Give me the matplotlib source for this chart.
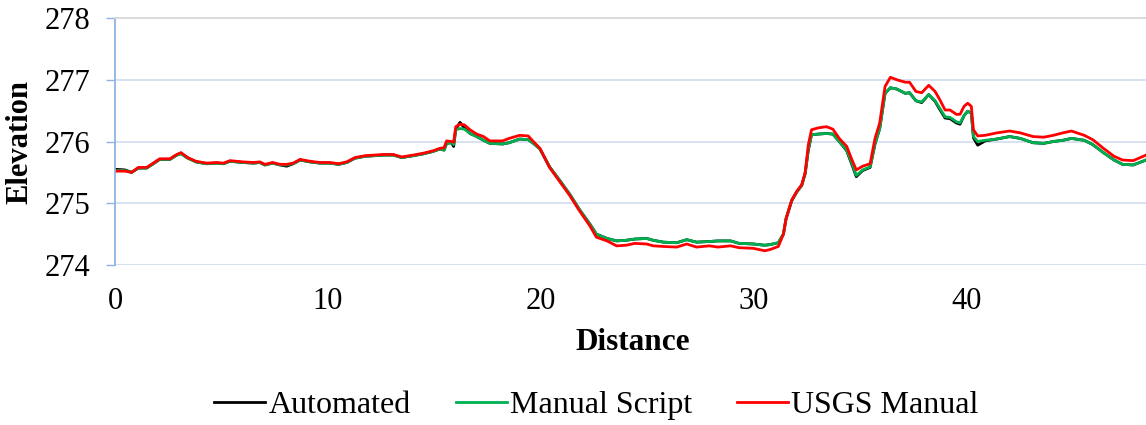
import matplotlib
matplotlib.use("Agg")
import matplotlib.pyplot as plt

plt.rcParams['font.family'] = ['Liberation Serif', 'DejaVu Serif']

distance = [0, 0.47, 0.78, 1.1, 1.49, 1.8, 2.1, 2.58, 2.9, 3.1, 3.4, 3.8, 4.3, 4.77, 5.1, 5.4, 6.0,
            6.5, 6.8, 7.04, 7.4, 7.75, 8.06, 8.37, 8.69, 9.15, 9.62, 10.09, 10.5, 10.88, 11.27, 11.74,
            12.2, 12.6, 13.07, 13.46, 14.0, 14.47, 14.94, 15.26, 15.45, 15.57, 15.8, 15.9, 16.0, 16.2,
            16.4, 16.67, 16.98, 17.3, 17.6, 18.2, 18.5, 19.0, 19.4, 19.64, 19.95, 20.4, 20.9, 21.36,
            21.8, 22.3, 22.6, 23.1, 23.55, 24.0, 24.4, 24.96, 25.27, 25.74, 26.37, 26.84, 27.3, 27.9,
            28.3, 28.9, 29.3, 29.97, 30.5, 30.75, 31.14, 31.38, 31.5, 31.77, 32.0, 32.24, 32.4, 32.55,
            32.7, 33.0, 33.4, 33.7, 34.0, 34.35, 34.6, 34.8, 35.1, 35.45, 35.68, 35.9, 36.15, 36.4,
            36.7, 37.1, 37.3, 37.6, 37.87, 38.2, 38.5, 38.7, 38.97, 39.2, 39.5, 39.67, 39.86, 40.03,
            40.2, 40.3, 40.5, 40.85, 41.4, 42.0, 42.5, 43.1, 43.6, 44.05, 44.5, 44.9, 45.5, 45.9,
            46.4, 46.9, 47.3, 47.8, 48.4]

manual_script = [275.53, 275.53, 275.50, 275.57, 275.57, 275.64, 275.71, 275.71, 275.78, 275.80,
                 275.73, 275.67, 275.64, 275.65, 275.64, 275.68, 275.66, 275.65, 275.66, 275.62,
                 275.65, 275.62, 275.62, 275.64, 275.70, 275.67, 275.65, 275.65, 275.63, 275.66,
                 275.73, 275.76, 275.77, 275.78, 275.78, 275.74, 275.77, 275.80, 275.84, 275.88,
                 275.86, 275.97, 275.98, 275.95, 276.19, 276.21, 276.20, 276.13, 276.08, 276.02,
                 275.97, 275.96, 275.98, 276.04, 276.03, 275.97, 275.88, 275.59, 275.36, 275.14,
                 274.90, 274.66, 274.50, 274.43, 274.39, 274.40, 274.42, 274.43, 274.40, 274.37,
                 274.36, 274.41, 274.37, 274.38, 274.39, 274.39, 274.35, 274.34, 274.32, 274.33,
                 274.36, 274.50, 274.75, 275.05, 275.18, 275.29, 275.48, 275.88, 276.11, 276.12,
                 276.13, 276.12, 276.00, 275.86, 275.64, 275.45, 275.54, 275.59, 275.97, 276.21,
                 276.78, 276.87, 276.85, 276.78, 276.79, 276.66, 276.64, 276.76, 276.66, 276.55,
                 276.40, 276.39, 276.32, 276.30, 276.42, 276.49, 276.46, 276.08, 276.00, 276.02,
                 276.04, 276.08, 276.05, 275.98, 275.97, 276.00, 276.02, 276.05, 276.02, 275.95,
                 275.82, 275.70, 275.63, 275.62, 275.70]

automated = [275.55, 275.54, 275.50, 275.57, 275.57, 275.64, 275.71, 275.71, 275.78, 275.81,
             275.74, 275.67, 275.64, 275.65, 275.64, 275.68, 275.66, 275.65, 275.66, 275.62,
             275.65, 275.62, 275.60, 275.64, 275.70, 275.67, 275.65, 275.65, 275.63, 275.66,
             275.73, 275.76, 275.77, 275.78, 275.78, 275.74, 275.77, 275.80, 275.84, 275.88,
             275.86, 275.97, 275.98, 275.92, 276.20, 276.31, 276.22, 276.13, 276.08, 276.02,
             275.97, 275.96, 275.98, 276.04, 276.03, 275.97, 275.88, 275.59, 275.36, 275.14,
             274.90, 274.66, 274.50, 274.43, 274.39, 274.40, 274.42, 274.43, 274.40, 274.37,
             274.36, 274.41, 274.37, 274.38, 274.39, 274.39, 274.35, 274.34, 274.32, 274.33,
             274.36, 274.50, 274.74, 275.04, 275.18, 275.29, 275.48, 275.86, 276.11, 276.12,
             276.13, 276.12, 276.00, 275.85, 275.62, 275.43, 275.53, 275.58, 275.96, 276.21,
             276.78, 276.87, 276.85, 276.78, 276.79, 276.66, 276.63, 276.76, 276.65, 276.53,
             276.38, 276.37, 276.30, 276.28, 276.42, 276.49, 276.46, 276.06, 275.94, 276.01,
             276.04, 276.08, 276.05, 275.98, 275.97, 276.00, 276.02, 276.05, 276.02, 275.95,
             275.82, 275.70, 275.63, 275.62, 275.70]

usgs_manual = [275.52, 275.52, 275.50, 275.58, 275.58, 275.65, 275.72, 275.72, 275.79, 275.82,
               275.74, 275.68, 275.65, 275.66, 275.65, 275.69, 275.67, 275.66, 275.67, 275.63,
               275.66, 275.63, 275.63, 275.65, 275.71, 275.68, 275.66, 275.66, 275.64, 275.67,
               275.74, 275.77, 275.78, 275.79, 275.79, 275.75, 275.78, 275.81, 275.85, 275.89,
               275.90, 276.01, 276.00, 275.99, 276.24, 276.28, 276.27, 276.19, 276.12, 276.08,
               276.01, 276.01, 276.05, 276.10, 276.09, 276.00, 275.89, 275.58, 275.34, 275.12,
               274.88, 274.63, 274.45, 274.39, 274.31, 274.32, 274.35, 274.34, 274.31, 274.30,
               274.29, 274.34, 274.29, 274.31, 274.29, 274.31, 274.28, 274.27, 274.23, 274.25,
               274.30, 274.50, 274.75, 275.05, 275.19, 275.30, 275.50, 275.95, 276.19, 276.22,
               276.24, 276.20, 276.05, 275.92, 275.70, 275.54, 275.60, 275.64, 276.05, 276.30,
               276.89, 277.04, 277.00, 276.96, 276.96, 276.81, 276.79, 276.91, 276.81, 276.69,
               276.51, 276.51, 276.44, 276.44, 276.57, 276.62, 276.57, 276.19, 276.09, 276.10,
               276.14, 276.17, 276.14, 276.08, 276.07, 276.10, 276.14, 276.17, 276.10, 276.03,
               275.89, 275.76, 275.70, 275.69, 275.78]

series_names = ["Automated", "Manual Script", "USGS Manual"]
series_colors = ["#000000", "#00B050", "#FF0000"]
x_ticks = [0, 10, 20, 30, 40]
y_ticks = [274, 275, 276, 277, 278]

fig = plt.figure(figsize=(11.46, 4.25), dpi=100)
ax = fig.add_axes([0.1003, 0.3765, 0.8997, 0.5811])

for vals, name, col in zip([automated, manual_script, usgs_manual], series_names, series_colors):
    ax.plot(distance, vals, color=col, lw=2.0, label=name, solid_joinstyle='round')

ax.set_xlim(0, 48.4)
ax.set_ylim(274, 278)
ax.set_xticks(x_ticks)
ax.set_yticks(y_ticks)
ax.grid(axis='y', color='#D4DEEF', lw=1.3)
ax.set_axisbelow(True)
for s in ['right', 'bottom']:
    ax.spines[s].set_visible(False)
ax.spines['top'].set_color('#D9D9D9')
ax.spines['top'].set_linewidth(1.3)
ax.spines['left'].set_color('#8EB4E3')
ax.spines['left'].set_linewidth(1.3)
ax.tick_params(axis='y', length=6.5, width=1.0, color='#8EB4E3', labelsize=22, pad=11)
ax.tick_params(axis='x', length=0, labelsize=22, pad=16)

fig.text(0.552, 0.195, "Distance", fontsize=22.5, fontweight='bold', ha='center', va='center')
fig.text(0.0175, 0.667, "Elevation", fontsize=22, fontweight='bold', ha='center', va='center',
         rotation=90)

fig.legend(loc='center', bbox_to_anchor=(0.5205, 0.047), ncol=3, frameon=False, fontsize=23,
           handlelength=1.6, handletextpad=0.1, columnspacing=1.4)

fig.savefig("out.png", dpi=100)
